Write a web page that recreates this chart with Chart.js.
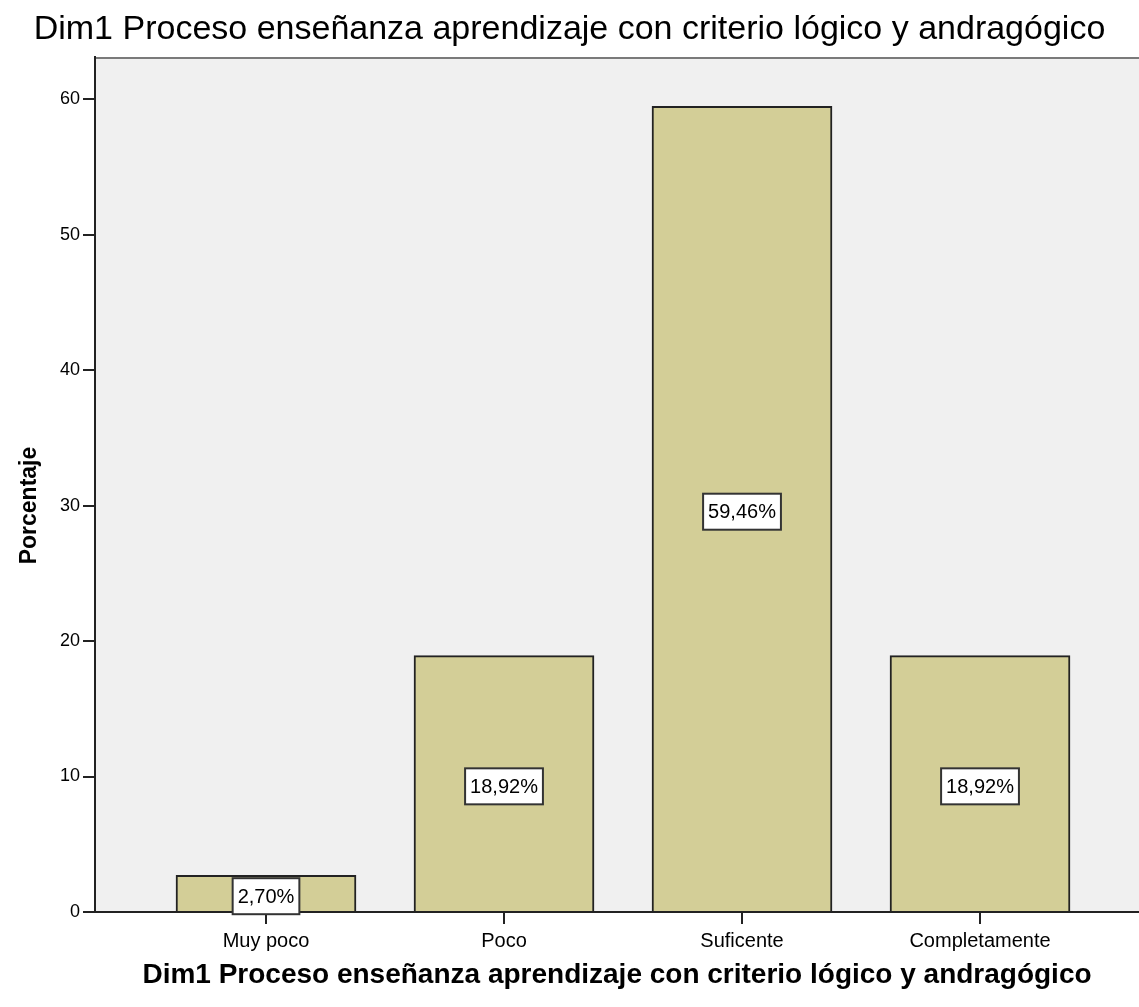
<!DOCTYPE html>
<html>
<head>
<meta charset="utf-8">
<script src="https://cdn.jsdelivr.net/npm/chart.js@4/dist/chart.umd.min.js"></script>
<style>
  body { margin: 0; background: #fff; }
  #wrap { width: 1139px; height: 1007px; position: relative; }
</style>
</head>
<body>
<div id="wrap"><canvas id="myChart"></canvas></div>
<script>
// datos del grafico
var categorias = ['Muy poco', 'Poco', 'Suficente', 'Completamente'];
var porcentajes = [2.70, 18.92, 59.46, 18.92];
var etiquetas = ['2,70%', '18,92%', '59,46%', '18,92%'];
var ticksY = [0, 10, 20, 30, 40, 50, 60];

var tituloGrafico = 'Dim1 Proceso enseñanza aprendizaje con criterio lógico y andragógico';
var tituloY = 'Porcentaje';

var fuente = "'Liberation Sans', Arial, sans-serif";

// fondo gris del area de trazado
var fondoPlot = {
    id: 'fondoPlot',
    beforeDraw: function(chart){
        var a = chart.chartArea;
        var ctx = chart.ctx;
        ctx.save();
        ctx.fillStyle = '#f0f0f0';
        ctx.fillRect(a.left, a.top, a.right - a.left, a.bottom - a.top);
        ctx.strokeStyle = '#7a7a7a';
        ctx.lineWidth = 2;
        ctx.beginPath();
        ctx.moveTo(a.left, a.top + 1);
        ctx.lineTo(a.right, a.top + 1);
        ctx.stroke();
        ctx.restore();
    }
};

// titulo del eje Y, centrado en toda la altura como en SPSS
var tituloEjeY = {
    id: 'tituloEjeY',
    afterDraw: function(chart){
        var ctx = chart.ctx;
        ctx.save();
        ctx.translate(30, chart.height / 2 + 2);
        ctx.rotate(-Math.PI / 2);
        ctx.font = 'bold 23px ' + fuente;
        ctx.fillStyle = '#000';
        ctx.textAlign = 'center';
        ctx.textBaseline = 'middle';
        ctx.fillText(tituloY, 0, 0);
        ctx.restore();
    }
};

// cajas blancas con el porcentaje
var cajas = {
    id: 'cajas',
    afterDatasetsDraw: function(chart){
        var ctx = chart.ctx;
        var meta = chart.getDatasetMeta(0);
        ctx.save();
        ctx.font = '20px ' + fuente;
        ctx.textAlign = 'center';
        ctx.textBaseline = 'middle';
        meta.data.forEach(function(bar, i){
            var txt = etiquetas[i];
            var w = ctx.measureText(txt).width + 10;
            var h = 36;
            var cy = (bar.y + bar.base) / 2 + 3;
            ctx.fillStyle = '#ffffff';
            ctx.fillRect(bar.x - w / 2, cy - h / 2, w, h);
            ctx.strokeStyle = '#333';
            ctx.lineWidth = 2;
            ctx.strokeRect(bar.x - w / 2, cy - h / 2, w, h);
            ctx.fillStyle = '#000';
            ctx.fillText(txt, bar.x, cy + 1);
        });
        ctx.restore();
    }
};

var ctx = document.getElementById('myChart');
var myChart = new Chart(ctx, {
    type: 'bar',
    data: {
        datasets: [{
            data: porcentajes.map(function(v, i){ return {x: i, y: v}; }),
            backgroundColor: '#d3ce97',
            borderColor: '#222',
            borderWidth: 2,
            borderSkipped: 'bottom',
            barThickness: 180
        }]
    },
    options: {
        responsive: true,
        maintainAspectRatio: false,
        animation: false,
        layout: { padding: 0 },
        plugins: {
            legend: { display: false },
            tooltip: { enabled: false },
            title: {
                display: true,
                text: tituloGrafico,
                color: '#000',
                font: { family: fuente, size: 34, weight: 'normal', lineHeight: 1.15 },
                padding: { top: 10, bottom: 8 }
            }
        },
        scales: {
            x: {
                type: 'linear',
                offset: false,
                min: -0.7185,
                max: 3.668,
                afterBuildTicks: function(scale){
                    scale.ticks = categorias.map(function(c, i){ return {value: i}; });
                },
                afterFit: function(scale){ scale.height = 95; },
                ticks: {
                    color: '#000',
                    font: { family: fuente, size: 20 },
                    padding: 5,
                    maxRotation: 0,
                    callback: function(v){ return categorias[v]; }
                },
                grid: { offset: false, drawOnChartArea: false, drawTicks: true, tickLength: 12, color: '#222', lineWidth: 2 },
                border: { color: '#222', width: 2 },
                title: {
                    display: true,
                    text: tituloGrafico,
                    color: '#000',
                    font: { family: fuente, size: 28, weight: 'bold', lineHeight: 1.2 },
                    padding: { top: 0, bottom: 15 }
                }
            },
            y: {
                min: 0,
                max: 63.1,
                afterBuildTicks: function(scale){
                    scale.ticks = ticksY.map(function(t){ return {value: t}; });
                },
                afterFit: function(scale){ scale.width = 95; },
                ticks: {
                    color: '#000',
                    font: { family: fuente, size: 18 },
                    padding: 3
                },
                grid: { drawOnChartArea: false, drawTicks: true, tickLength: 12, color: '#222', lineWidth: 2 },
                border: { color: '#222', width: 2 },
                title: { display: false }
            }
        }
    },
    plugins: [fondoPlot, cajas, tituloEjeY]
});
</script>
</body>
</html>
